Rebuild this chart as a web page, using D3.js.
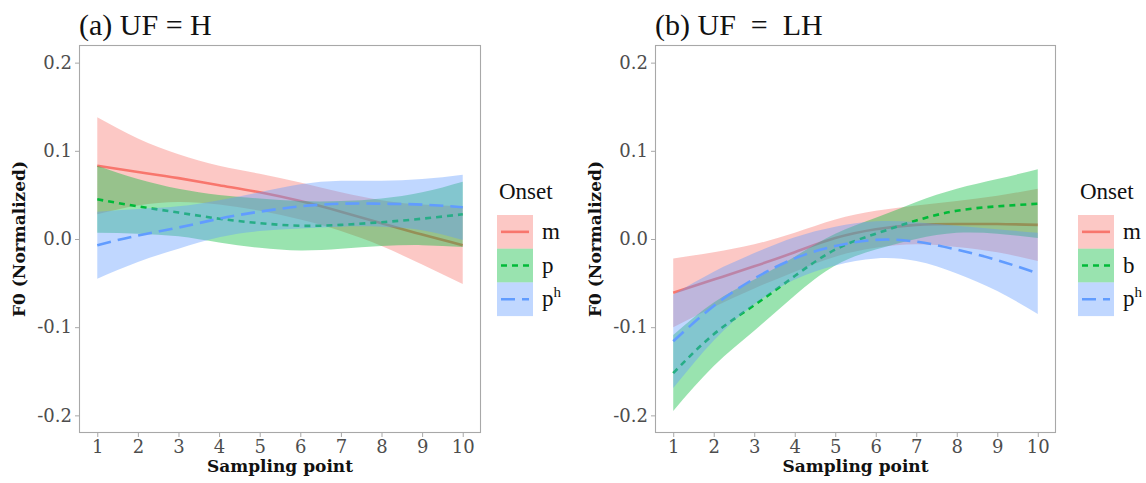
<!DOCTYPE html>
<html><head><meta charset="utf-8">
<script src="https://cdn.jsdelivr.net/npm/d3@7"></script>
<style>body{margin:0;background:#fff}svg{display:block}</style>
</head><body>
<svg id="c" width="1146" height="483"></svg>
<script>
const samplingPoints = [1,2,3,4,5,6,7,8,9,10];
const yTicks = [-0.2,-0.1,0.0,0.1,0.2];
const yTickLabels = ["-0.2","-0.1","0.0","0.1","0.2"];

// Panel (a) UF = H
const aM    = [0.083,0.076,0.069,0.061,0.053,0.043,0.031,0.018,0.005,-0.007];
const aMse  = [0.055,0.038,0.027,0.022,0.021,0.021,0.022,0.026,0.034,0.044];
const aP    = [0.045,0.037,0.030,0.023,0.018,0.015,0.016,0.019,0.023,0.028];
const aPse  = [0.038,0.031,0.027,0.027,0.028,0.028,0.027,0.027,0.030,0.037];
const aPh   = [-0.007,0.004,0.013,0.023,0.031,0.037,0.040,0.040,0.039,0.036];
const aPhse = [0.038,0.030,0.024,0.021,0.022,0.025,0.026,0.026,0.029,0.037];

// Panel (b) UF = LH
const bM    = [-0.061,-0.046,-0.031,-0.015,0.001,0.011,0.016,0.017,0.017,0.016];
const bMse  = [0.039,0.031,0.025,0.022,0.021,0.021,0.022,0.026,0.032,0.041];
const bB    = [-0.152,-0.108,-0.075,-0.042,-0.012,0.006,0.021,0.032,0.037,0.040];
const bBse  = [0.043,0.036,0.029,0.022,0.018,0.018,0.021,0.025,0.031,0.039];
const bPh   = [-0.116,-0.076,-0.045,-0.022,-0.008,-0.001,-0.003,-0.012,-0.024,-0.039];
const bPhse = [0.053,0.039,0.029,0.024,0.022,0.021,0.022,0.027,0.035,0.046];

const colors = ["#F8766D","#00BA38","#619CFF"];
const dashes = [null,"6,5","14,7"];

const panels = [
  {title:"(a) UF = H", left:79, right:481, legendX:497,
   labels:[["m"],["p"],["p","h"]],
   series:[[aM,aMse],[aP,aPse],[aPh,aPhse]]},
  {title:"(b) UF  =  LH", left:655, right:1056, legendX:1078,
   labels:[["m"],["b"],["p","h"]],
   series:[[bM,bMse],[bB,bBse],[bPh,bPhse]]}
];

const svg = d3.select("#c");
const plotTop = 45, plotBottom = 433;
const grey = "#4d4d4d", border = "#a8a8a8";

panels.forEach(P => {
  const x = d3.scaleLinear().domain([0.55,10.45]).range([P.left,P.right]);
  const y = d3.scaleLinear().domain([-0.22,0.22]).range([plotBottom,plotTop]);
  const g = svg.append("g");

  P.series.forEach((s,i) => {
    const [fit,se] = s;
    const pts = samplingPoints.map((v,k)=>({x:v, f:fit[k], lo:fit[k]-se[k], hi:fit[k]+se[k]}));
    g.append("path").datum(pts)
      .attr("d", d3.area().x(d=>x(d.x)).y0(d=>y(d.lo)).y1(d=>y(d.hi)).curve(d3.curveNatural))
      .attr("fill", colors[i]).attr("fill-opacity",0.4);
    g.append("path").datum(pts)
      .attr("d", d3.line().x(d=>x(d.x)).y(d=>y(d.f)).curve(d3.curveNatural))
      .attr("fill","none").attr("stroke",colors[i]).attr("stroke-width",2.6)
      .attr("stroke-dasharray", dashes[i]);
  });

  g.append("rect").attr("x",P.left+0.5).attr("y",plotTop+0.5)
    .attr("width",P.right-P.left-1).attr("height",plotBottom-plotTop-1)
    .attr("fill","none").attr("stroke",border).attr("stroke-width",1.1);

  const xa = g.append("g").attr("transform",`translate(0,${plotBottom})`)
    .call(d3.axisBottom(x).tickValues(samplingPoints).tickSize(4).tickSizeOuter(0).tickPadding(3));
  xa.select(".domain").remove();
  xa.selectAll("line").attr("stroke",border);
  xa.selectAll("text").attr("fill",grey).style("font-family","DejaVu Serif").style("font-size","18px");

  const ya = g.append("g").attr("transform",`translate(${P.left},0)`)
    .call(d3.axisLeft(y).tickValues(yTicks).tickFormat((d,k)=>yTickLabels[k]).tickSize(4).tickSizeOuter(0).tickPadding(3));
  ya.select(".domain").remove();
  ya.selectAll("line").attr("stroke",border);
  ya.selectAll("text").attr("fill",grey).style("font-family","DejaVu Serif").style("font-size","18px");

  g.append("text").attr("x",P.left).attr("y",35).text(P.title)
    .style("white-space","pre").attr("xml:space","preserve")
    .style("font-family","Liberation Serif").style("font-size","30px").attr("fill","#111");

  g.append("text").attr("x",(P.left+P.right)/2).attr("y",472).attr("text-anchor","middle")
    .text("Sampling point").style("font-family","DejaVu Serif").style("font-weight","bold")
    .style("font-size","17px").attr("fill","#111");

  g.append("text").attr("transform",`translate(${P.left-54},${(plotTop+plotBottom)/2}) rotate(-90)`)
    .attr("text-anchor","middle").text("F0 (Normalized)")
    .style("font-family","DejaVu Serif").style("font-weight","bold")
    .style("font-size","17px").attr("fill","#111");

  // legend
  const L = g.append("g");
  L.append("text").attr("x",P.legendX+2).attr("y",199).text("Onset")
    .style("font-family","Liberation Serif").style("font-size","23px").attr("fill","#111");
  const kh = 33.7, kw = 36, ky = 215;
  P.labels.forEach((lab,i) => {
    const yy = ky + i*kh;
    L.append("rect").attr("x",P.legendX).attr("y",yy).attr("width",kw).attr("height",kh)
      .attr("fill",colors[i]).attr("fill-opacity",0.4);
    L.append("line").attr("x1",P.legendX+4).attr("x2",P.legendX+kw-4)
      .attr("y1",yy+kh/2).attr("y2",yy+kh/2)
      .attr("stroke",colors[i]).attr("stroke-width",2.6).attr("stroke-dasharray",dashes[i]);
    const t = L.append("text").attr("x",P.legendX+kw+9).attr("y",yy+kh/2+7)
      .style("font-family","Liberation Serif").style("font-size","23px").attr("fill","#111");
    t.append("tspan").text(lab[0]);
    if (lab[1]) t.append("tspan").attr("dy",-9).style("font-size","15px").text(lab[1]);
  });
});
</script>
</body></html>
